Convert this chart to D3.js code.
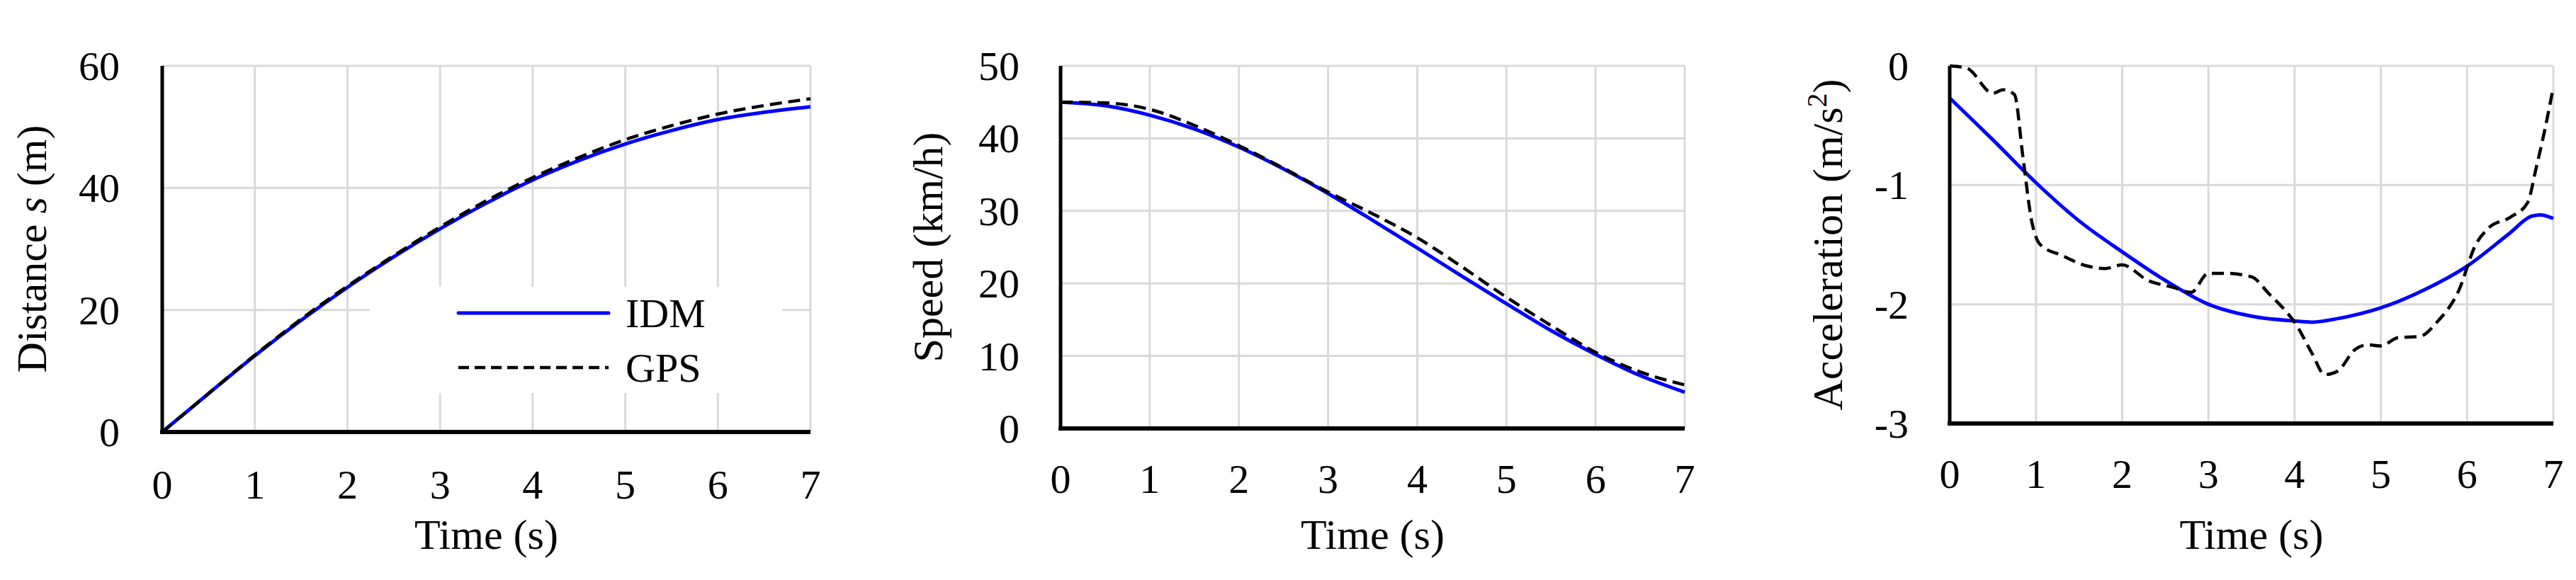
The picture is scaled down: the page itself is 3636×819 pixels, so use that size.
<!DOCTYPE html>
<html><head><meta charset="utf-8">
<script src="https://cdn.jsdelivr.net/npm/d3@7"></script>
<style>body{margin:0;background:#fff}svg{display:block}text{font-family:"Liberation Serif","Times New Roman",serif;fill:#000}</style>
</head><body>
<script>
const timeTicks=[0,1,2,3,4,5,6,7];
const tDist=[0,0.5,1,1.5,2,2.5,3,3.5,4,4.5,5,5.5,6,6.5,7];
const distIDM=[0,6.3,12.5,18.3,23.7,28.7,33.3,37.5,41.3,44.5,47.2,49.4,51.2,52.4,53.3];
const distGPS=[0,6.3,12.6,18.5,23.9,28.9,33.6,37.9,41.7,45.0,47.9,50.2,52.1,53.5,54.6];
const distTicks=[0,20,40,60];
const speedIDM=[45,44.5,43.2,41.3,38.8,35.8,32.4,28.7,24.9,21.0,17.2,13.5,10.2,7.3,5.0];
const speedGPS=[45,44.9,44.0,41.8,39.0,35.9,32.6,29.6,26.3,22.3,18.1,14.2,10.5,7.8,6.0];
const speedTicks=[0,10,20,30,40,50];
const tAccIDM=[0,0.5,1,1.5,2,2.5,3,3.5,4,4.2,4.5,5,5.5,6,6.5,6.75,6.85,7];
const accIDM=[-0.27,-0.62,-0.98,-1.3,-1.56,-1.8,-2.0,-2.1,-2.14,-2.15,-2.12,-2.03,-1.88,-1.68,-1.4,-1.26,-1.25,-1.28];
const tAccGPS=[0,0.2,0.5,0.62,0.75,0.85,0.95,1.05,1.3,1.6,1.8,2.0,2.3,2.6,2.8,3.0,3.2,3.5,3.7,3.9,4.0,4.2,4.35,4.5,4.7,4.85,5.0,5.2,5.45,5.65,5.9,6.1,6.25,6.5,6.7,6.8,6.9,7.0];
const accGPS=[0,-0.02,-0.23,-0.2,-0.24,-0.77,-1.3,-1.5,-1.59,-1.68,-1.7,-1.67,-1.8,-1.86,-1.9,-1.74,-1.74,-1.77,-1.91,-2.06,-2.15,-2.41,-2.59,-2.56,-2.38,-2.34,-2.35,-2.28,-2.27,-2.15,-1.89,-1.5,-1.36,-1.27,-1.15,-0.86,-0.54,-0.18];
const accTicks=[-3,-2,-1,0];

const svg=d3.select("body").append("svg").attr("width",3636).attr("height",819);
const FS=58, TS=60;
function panel(o){
  const x=d3.scaleLinear().domain([0,7]).range([o.x0,o.x1]);
  const y=d3.scaleLinear().domain(o.dom).range([o.y0,o.y1]);
  const g=svg.append("g");
  g.selectAll(".vg").data(timeTicks.slice(1)).join("line").attr("x1",d=>x(d)).attr("x2",d=>x(d)).attr("y1",o.y0).attr("y2",o.y1).attr("stroke","#d9d9d9").attr("stroke-width",3);
  g.selectAll(".hg").data(o.yt.slice(1)).join("line").attr("x1",o.x0).attr("x2",o.x1).attr("y1",d=>y(d)).attr("y2",d=>y(d)).attr("stroke","#d9d9d9").attr("stroke-width",3);
  if(o.legend){g.append("rect").attr("x",522).attr("y",405).attr("width",582).attr("height",150).attr("fill","#fff");}
  const line=(xs,ys)=>d3.line().x((d,i)=>x(xs[i])).y(d=>y(d)).curve(d3.curveMonotoneX)(ys);
  g.append("path").attr("d",line(o.tI,o.I)).attr("fill","none").attr("stroke","#0000ff").attr("stroke-width",5);
  g.append("path").attr("d",line(o.tG,o.G)).attr("fill","none").attr("stroke","#000").attr("stroke-width",4.5).attr("stroke-dasharray","17,9");
  g.append("line").attr("x1",o.x0).attr("x2",o.x0).attr("y1",o.y0+3).attr("y2",o.y1).attr("stroke","#000").attr("stroke-width",5);
  g.append("line").attr("x1",o.x0-3).attr("x2",o.x1).attr("y1",o.y0).attr("y2",o.y0).attr("stroke","#000").attr("stroke-width",6);
  g.selectAll(".yl").data(o.yt).join("text").attr("x",o.x0-o.lgap).attr("y",d=>y(d)+20).attr("text-anchor","end").attr("font-size",FS).text(d=>d);
  g.selectAll(".xl").data(timeTicks).join("text").attr("x",d=>x(d)).attr("y",o.xly).attr("text-anchor","middle").attr("font-size",FS).text(d=>d);
  g.append("text").attr("x",(o.x0+o.x1)/2).attr("y",775).attr("text-anchor","middle").attr("font-size",TS).text("Time (s)");
  const yt=g.append("text").attr("transform",`translate(${o.tx},${(o.y0+o.y1)/2}) rotate(-90)`).attr("text-anchor","middle").attr("font-size",TS);
  o.title(yt);
  if(o.legend){
    g.append("line").attr("x1",647).attr("x2",859).attr("y1",442).attr("y2",442).attr("stroke","#0000ff").attr("stroke-width",5).attr("stroke-linecap","round");
    g.append("line").attr("x1",647).attr("x2",859).attr("y1",519).attr("y2",519).attr("stroke","#000").attr("stroke-width",4.5).attr("stroke-dasharray","15,8");
    g.append("text").attr("x",883).attr("y",462).attr("font-size",FS).text("IDM");
    g.append("text").attr("x",883).attr("y",539).attr("font-size",FS).text("GPS");
  }
}
panel({x0:229,x1:1144,y0:610,y1:93,dom:[0,60],yt:distTicks,lgap:60,xly:704,tx:65,legend:true,
  tI:tDist,I:distIDM,tG:tDist,G:distGPS,
  title:t=>{t.append("tspan").text("Distance ");t.append("tspan").attr("font-style","italic").text("s");t.append("tspan").text(" (m)");}});
panel({x0:1497,x1:2378,y0:605,y1:93,dom:[0,50],yt:speedTicks,lgap:58,xly:696,tx:1330,
  tI:tDist,I:speedIDM,tG:tDist,G:speedGPS,
  title:t=>t.text("Speed (km/h)")});
panel({x0:2752,x1:3604,y0:598,y1:93,dom:[-3,0],yt:accTicks,lgap:58,xly:689,tx:2600,
  tI:tAccIDM,I:accIDM,tG:tAccGPS,G:accGPS,
  title:t=>{t.append("tspan").text("Acceleration (m/s");t.append("tspan").attr("font-size",40).attr("dy",-22).text("2");t.append("tspan").attr("dy",22).text(")");}});
</script>
</body></html>
